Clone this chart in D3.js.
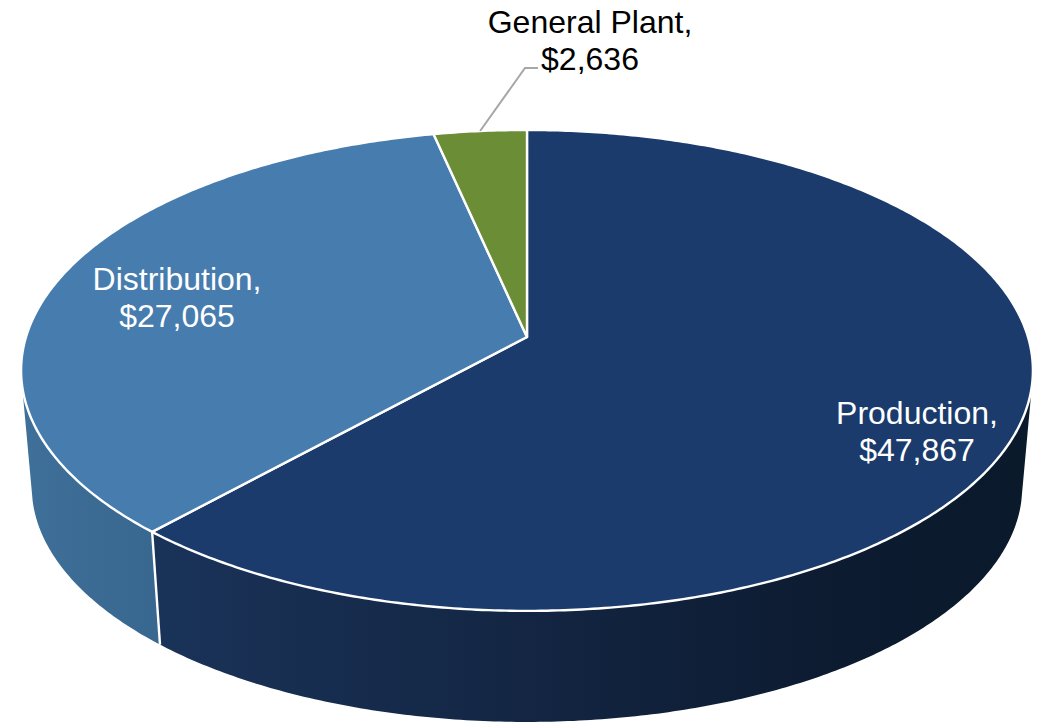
<!DOCTYPE html>
<html>
<head>
<meta charset="utf-8">
<script src="https://cdn.jsdelivr.net/npm/d3@7"></script>
<style>
html,body{margin:0;padding:0;background:#fff;overflow:hidden}
svg{display:block}
text{font-family:"Liberation Sans",Arial,sans-serif}
</style>
</head>
<body>
<svg id="chart" width="1038" height="724"></svg>
<script>
const categories = ["Production", "Distribution", "General Plant"];
const values = [47867, 27065, 2636];

const W = 1038, H = 724;
const topColors = ["#1a3b6b", "#477cae", "#6a8d35"];
const rimStops = [
  [{o:0,c:"#1a3359"},{o:0.5,c:"#12233f"},{o:0.78,c:"#0c1b30"},{o:1,c:"#0a1a2b"}],
  [{o:0,c:"#3f7099"},{o:1,c:"#38678f"}],
  [{o:0,c:"#55722b"},{o:1,c:"#55722b"}]
];
const labelLayout = [
  {x:917, y:424, fill:"#fff"},
  {x:177, y:290, fill:"#fff"},
  {x:590, y:33,  fill:"#000"}
];

// perspective projection of the unit pie disc
const cx = 527, cy = 337, A = 501, B = 235.8, k = 0.139;
const vpY = 5900, depth = 0.979;
const frontV = 0.2; // rim is visible where the disc depth coordinate exceeds this
const frontA0 = Math.acos(-frontV), frontA1 = 2*Math.PI - frontA0;
function projTop(angle){
  const u = Math.sin(angle), v = -Math.cos(angle), d = 1 - k*v;
  return [cx + A*u/d, cy + B*v/d];
}
function projBottom(angle){
  const [x,y] = projTop(angle);
  return [cx + depth*(x-cx), vpY + depth*(y-vpY)];
}
const samples = (a0,a1) => {
  const n = Math.max(2, Math.ceil((a1-a0)/0.01));
  return d3.range(n+1).map(i => a0 + (a1-a0)*i/n);
};

const svg = d3.select("#chart");
const defs = svg.append("defs");
const fmt = d3.format("$,");
const pie = d3.pie().sort(null).value(d => d)(values);
const line = d3.line();
const color = d3.scaleOrdinal().domain(categories).range(topColors);

const visible = pie.map(d => ({
  a0: Math.max(d.startAngle, frontA0),
  a1: Math.min(d.endAngle, frontA1)
}));

rimStops.forEach((stops,i) => {
  const g = defs.append("linearGradient").attr("id","rim"+i)
    .attr("gradientUnits","userSpaceOnUse");
  const v = visible[i];
  if(v.a1 > v.a0){
    const xs = samples(v.a0,v.a1).map(a => projTop(a)[0]);
    g.attr("x1",d3.min(xs)).attr("x2",d3.max(xs)).attr("y1",0).attr("y2",0);
  }
  g.selectAll("stop").data(stops).join("stop")
    .attr("offset",d=>d.o).attr("stop-color",d=>d.c);
});

// rims
const rims = svg.append("g");
rims.selectAll("path").data(visible.filter(v => v.a1 > v.a0)).join("path")
  .attr("d",d => {
    const as = samples(d.a0,d.a1);
    return line(as.map(projTop).concat(as.slice().reverse().map(projBottom))) + "Z";
  })
  .attr("fill",(d,i) => `url(#rim${i})`);

// white seam between visible rim sections
rims.append("path")
  .attr("d",line([projTop(pie[0].endAngle),projBottom(pie[0].endAngle)]))
  .attr("stroke","#fff").attr("stroke-width",2.4).attr("fill","none");

// top faces
svg.append("g").selectAll("path").data(pie).join("path")
  .attr("d",d => line([[cx,cy]].concat(samples(d.startAngle,d.endAngle).map(projTop))) + "Z")
  .attr("fill",(d,i) => color(categories[i]))
  .attr("stroke","#fff").attr("stroke-width",2.4).attr("stroke-linejoin","round");

// leader line
const gp = labelLayout[2];
svg.append("path")
  .attr("d",line([projTop((pie[2].startAngle+pie[2].endAngle)/2),[gp.x-65,gp.y+35],[gp.x-52,gp.y+35]]))
  .attr("fill","none").attr("stroke","#a6a6a6").attr("stroke-width",2);

// labels
const labels = svg.append("g").selectAll("text").data(categories).join("text")
  .attr("text-anchor","middle")
  .attr("font-size",32)
  .attr("fill",(d,i)=>labelLayout[i].fill);
labels.append("tspan").attr("x",(d,i)=>labelLayout[i].x).attr("y",(d,i)=>labelLayout[i].y)
  .text(d=>d+",");
labels.append("tspan").attr("x",(d,i)=>labelLayout[i].x).attr("y",(d,i)=>labelLayout[i].y+36.5)
  .text((d,i)=>fmt(values[i]));
</script>
</body>
</html>
